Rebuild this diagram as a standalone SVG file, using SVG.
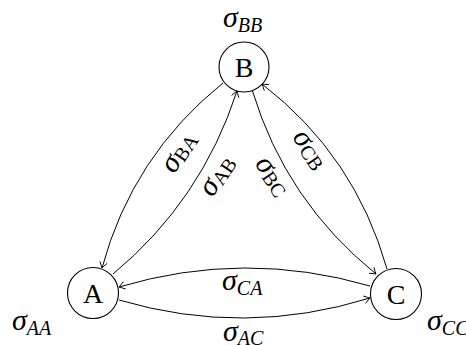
<svg xmlns="http://www.w3.org/2000/svg" width="466" height="345" viewBox="0 0 466 345">
<defs>
<marker id="arr" markerUnits="userSpaceOnUse" viewBox="-7 -5 9 10" markerWidth="9" markerHeight="10" refX="0" refY="0" orient="auto" overflow="visible">
<path d="M -5.5 -3.6 Q -1.5 -0.8 0 0 Q -1.5 0.8 -5.5 3.6" fill="none" stroke="#000" stroke-width="0.9" stroke-linecap="round"/>
</marker>
</defs>
<style>
.node circle{fill:#fff;stroke:#000;stroke-width:1.1}
.nl{font-family:"Liberation Serif",serif;font-size:28px;text-anchor:middle}
.edge{fill:none;stroke:#000;stroke-width:1;marker-end:url(#arr)}
.lab{font-family:"Liberation Serif",serif;font-size:30px;font-style:italic}
.sub{font-size:20px}
.rl{font-family:"Liberation Serif",serif;font-size:30px;text-anchor:middle}
.rl .s{font-style:italic}
.rl .r{font-size:20px;font-style:normal}
</style>
<g id="connectors">
<path class="edge" d="M 223 83 Q 132.4 155.8 102 268"/>
<path class="edge" d="M 113 274 Q 201.5 200.5 237 91"/>
<path class="edge" d="M 252.5 91 Q 285.7 200.9 376 274"/>
<path class="edge" d="M 387 269 Q 354.9 155.5 262 84"/>
<path class="edge" d="M 370 286 Q 244.5 249.5 119 287"/>
<path class="edge" d="M 119 300 Q 244.5 337 370 298"/>
</g>
<g id="node-B" class="node">
<circle cx="244" cy="67" r="25"/>
<text class="nl" x="244" y="76.5">B</text>
</g>
<g id="node-A" class="node">
<circle cx="93" cy="293" r="25.5"/>
<text class="nl" x="93" y="303">A</text>
</g>
<g id="node-C" class="node">
<circle cx="396" cy="294" r="25.5"/>
<text class="nl" x="396" y="303.5">C</text>
</g>
<g id="labels">
<text class="lab" x="223" y="27">σ<tspan class="sub" dy="5">BB</tspan></text>
<text class="lab" x="12" y="330">σ<tspan class="sub" dy="5">AA</tspan></text>
<text class="lab" x="427" y="330">σ<tspan class="sub" dy="5">CC</tspan></text>
<text class="lab" x="222" y="290">σ<tspan class="sub" dy="5">CA</tspan></text>
<text class="lab" x="223" y="340.5">σ<tspan class="sub" dy="4">AC</tspan></text>
<text class="rl" transform="translate(181.7,154) rotate(-56)" y="5"><tspan class="s">σ</tspan><tspan class="r" dy="2">BA</tspan></text>
<text class="rl" transform="translate(220,177.5) rotate(-56)" y="5"><tspan class="s">σ</tspan><tspan class="r" dy="2">AB</tspan></text>
<text class="rl" transform="translate(270,178) rotate(56)" y="5"><tspan class="s">σ</tspan><tspan class="r" dy="2">BC</tspan></text>
<text class="rl" transform="translate(307.5,151.5) rotate(56)" y="5"><tspan class="s">σ</tspan><tspan class="r" dy="2">CB</tspan></text>
</g>
</svg>
